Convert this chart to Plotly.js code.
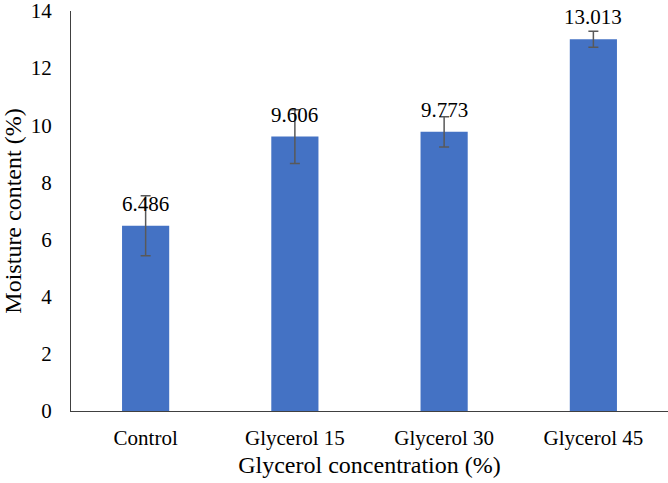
<!DOCTYPE html>
<html>
<head>
<meta charset="utf-8">
<script src="https://cdn.plot.ly/plotly-3.0.1.min.js"></script>
<style>html,body{margin:0;padding:0;background:#fff;}#chart{width:668px;height:483px;}</style>
</head>
<body>
<div id="chart"></div>
<script>
const categories = ["Control", "Glycerol 15", "Glycerol 30", "Glycerol 45"];
const moisture = [6.486, 9.606, 9.773, 13.013];
const errors = [1.05, 0.94, 0.53, 0.28];
const labels = ["6.486", "9.606", "9.773", "13.013"];
const yTicks = [0, 2, 4, 6, 8, 10, 12, 14];

const FONT = "Liberation Serif";

const trace = {
  type: "bar",
  x: categories,
  y: moisture,
  marker: {color: "#4472C4"},
  error_y: {type: "data", array: errors, visible: true, color: "#595959", thickness: 1.5, width: 5},
  hoverinfo: "none"
};

const annotations = categories.map((c, i) => ({
  x: c, y: moisture[i], text: labels[i], showarrow: false,
  yanchor: "bottom", yshift: 8,
  font: {family: FONT, size: 21, color: "#000"}
}));

const layout = {
  width: 668, height: 483,
  margin: {l: 71, r: 0, t: 11, b: 72},
  paper_bgcolor: "#fff", plot_bgcolor: "#fff",
  bargap: 0.684,
  showlegend: false,
  font: {family: FONT, color: "#000"},
  xaxis: {
    showline: true, linecolor: "#404040", linewidth: 1,
    ticks: "", showgrid: false, zeroline: false,
    ticklabelstandoff: 8,
    tickfont: {family: FONT, size: 21, color: "#000"},
    title: {text: "Glycerol concentration (%)", font: {family: FONT, size: 24, color: "#000"}, standoff: 6}
  },
  yaxis: {
    range: [0, 14], tickvals: yTicks, ticktext: yTicks.map(String),
    showline: true, linecolor: "#404040", linewidth: 1,
    ticks: "", showgrid: false, zeroline: false,
    ticklabelstandoff: 14, ticklabeloverflow: "allow",
    tickfont: {family: FONT, size: 21, color: "#000"},
    title: {text: "Moisture content (%)", font: {family: FONT, size: 24, color: "#000"}, standoff: 10}
  },
  annotations: annotations
};

Plotly.newPlot("chart", [trace], layout, {displayModeBar: false, staticPlot: true});
</script>
</body>
</html>
